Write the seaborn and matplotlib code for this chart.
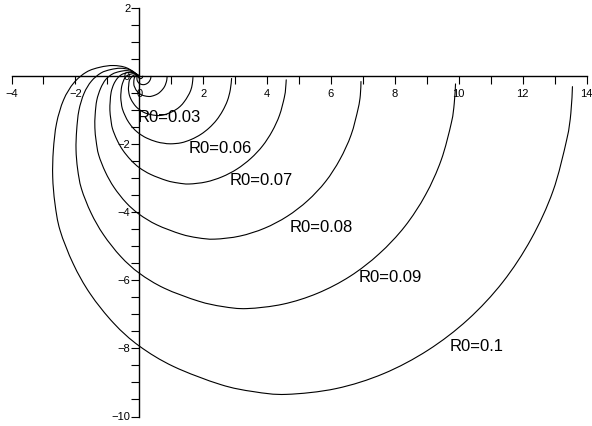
import matplotlib
matplotlib.use("Agg")
import matplotlib.pyplot as plt
from matplotlib.path import Path
from matplotlib.patches import PathPatch
from matplotlib.ticker import MultipleLocator
import seaborn as sns
import numpy as np

sns.set_style("white")
plt.rcParams["font.family"] = ["Liberation Sans", "DejaVu Sans"]

# Trajectories for R0 = 0.01 ... 0.10, each starting at the origin
r0_values = [0.01, 0.02, 0.03, 0.04, 0.05, 0.06, 0.07, 0.08, 0.09, 0.10]

x_r01 = [0.0, -0.003, 0.0, 0.008, 0.014]
y_r01 = [0.0, -0.003, -0.008, -0.009, 0.0]

x_r02 = [0.0, -0.019, -0.022, -0.017, 0.0, 0.020, 0.037, 0.058, 0.078, 0.093, 0.103, 0.108]
y_r02 = [0.0, -0.006, -0.024, -0.044, -0.063, -0.073, -0.075, -0.071, -0.060, -0.046, -0.028, -0.002]

x_r03 = [0.0, -0.045, -0.064, -0.073, -0.071, -0.056, -0.022, 0.0, 0.029, 0.069, 0.124, 0.166,
         0.207, 0.244, 0.278, 0.307, 0.331, 0.350, 0.361, 0.366]
y_r03 = [0.0, 0.003, -0.019, -0.059, -0.10, -0.149, -0.196, -0.214, -0.230, -0.245, -0.252, -0.248,
         -0.236, -0.217, -0.193, -0.163, -0.129, -0.091, -0.050, -0.008]

x_r04 = [0.0, -0.05, -0.11, -0.15, -0.17, -0.17, -0.16, -0.13, -0.10, -0.05, 0.0, 0.07, 0.16, 0.30,
         0.39, 0.49, 0.58, 0.66, 0.73, 0.79, 0.83, 0.86, 0.87]
y_r04 = [0.0, 0.02, 0.01, -0.04, -0.14, -0.24, -0.29, -0.35, -0.41, -0.46, -0.51, -0.55, -0.58, -0.60,
         -0.59, -0.56, -0.52, -0.46, -0.39, -0.31, -0.22, -0.12, -0.02]

x_r05 = [0.0, -0.10, -0.20, -0.29, -0.32, -0.33, -0.34, -0.33, -0.31, -0.26, -0.19, -0.10, 0.0, 0.13,
         0.31, 0.57, 0.76, 0.95, 1.12, 1.28, 1.41, 1.52, 1.61, 1.66, 1.68]
y_r05 = [0.0, 0.04, 0.01, -0.09, -0.17, -0.27, -0.37, -0.46, -0.56, -0.68, -0.79, -0.90, -0.98, -1.06,
         -1.12, -1.16, -1.14, -1.08, -1.00, -0.89, -0.75, -0.59, -0.42, -0.23, -0.04]

x_r06 = [0.0, -0.17, -0.35, -0.44, -0.50, -0.55, -0.57, -0.58, -0.56, -0.53, -0.44, -0.33, -0.17, 0.0,
         0.23, 0.54, 0.76, 0.98, 1.31, 1.63, 1.93, 2.19, 2.42, 2.61, 2.76, 2.85, 2.89]
y_r06 = [0.0, 0.07, 0.03, -0.04, -0.15, -0.30, -0.46, -0.63, -0.80, -0.96, -1.17, -1.36, -1.55, -1.69,
         -1.82, -1.93, -1.97, -1.99, -1.96, -1.86, -1.71, -1.52, -1.29, -1.02, -0.72, -0.40, -0.07]

x_r07 = [0.0, -0.13, -0.27, -0.42, -0.56, -0.69, -0.80, -0.88, -0.91, -0.92, -0.89, -0.84, -0.70, -0.52,
         -0.27, 0.0, 0.36, 0.86, 1.21, 1.56, 2.09, 2.59, 3.06, 3.49, 3.86, 4.16, 4.39, 4.54, 4.58, 4.60]
y_r07 = [0.0, 0.08, 0.11, 0.09, 0.04, -0.07, -0.24, -0.47, -0.74, -1.00, -1.27, -1.54, -1.87, -2.17,
         -2.46, -2.69, -2.89, -3.07, -3.14, -3.17, -3.11, -2.96, -2.73, -2.42, -2.05, -1.62, -1.15, -0.63,
         -0.37, -0.11]

x_r08 = [0.0, -0.20, -0.41, -0.63, -0.84, -1.05, -1.21, -1.33, -1.38, -1.39, -1.35, -1.27, -1.06, -0.79,
         -0.41, 0.0, 0.55, 1.30, 1.83, 2.36, 3.15, 3.92, 4.63, 5.27, 5.83, 6.28, 6.63, 6.85, 6.92, 6.94]
y_r08 = [0.0, 0.12, 0.16, 0.13, 0.06, -0.10, -0.36, -0.71, -1.12, -1.52, -1.91, -2.32, -2.82, -3.27,
         -3.72, -4.06, -4.37, -4.64, -4.75, -4.79, -4.70, -4.47, -4.12, -3.66, -3.10, -2.45, -1.73, -0.96,
         -0.56, -0.16]

x_r09 = [0.0, -0.28, -0.59, -0.90, -1.20, -1.50, -1.73, -1.89, -1.96, -1.98, -1.93, -1.81, -1.51, -1.12,
         -0.58, 0.0, 0.78, 1.85, 2.61, 3.37, 4.50, 5.58, 6.60, 7.51, 8.31, 8.96, 9.45, 9.77, 9.86, 9.90]
y_r09 = [0.0, 0.18, 0.23, 0.19, 0.09, -0.15, -0.51, -1.01, -1.59, -2.16, -2.73, -3.31, -4.02, -4.66,
         -5.30, -5.79, -6.23, -6.61, -6.77, -6.83, -6.70, -6.38, -5.88, -5.22, -4.42, -3.49, -2.47, -1.37,
         -0.80, -0.23]

x_r10 = [0.0, -0.39, -0.81, -1.23, -1.65, -2.05, -2.37, -2.59, -2.69, -2.71, -2.64, -2.48, -2.07, -1.54,
         -0.80, 0.0, 1.07, 2.54, 3.58, 4.61, 6.16, 7.65, 9.04, 10.29, 11.38, 12.27, 12.95, 13.38, 13.51,
         13.56]
y_r10 = [0.0, 0.24, 0.31, 0.26, 0.12, -0.20, -0.70, -1.39, -2.18, -2.96, -3.74, -4.53, -5.51, -6.39,
         -7.26, -7.93, -8.53, -9.06, -9.27, -9.35, -9.18, -8.74, -8.05, -7.15, -6.05, -4.78, -3.38, -1.87,
         -1.09, -0.31]

curve_x = [x_r01, x_r02, x_r03, x_r04, x_r05, x_r06, x_r07, x_r08, x_r09, x_r10]
curve_y = [y_r01, y_r02, y_r03, y_r04, y_r05, y_r06, y_r07, y_r08, y_r09, y_r10]

# Curve annotations: text and anchor (left edge, vertical centre)
label_texts = ["R0=0.03", "R0=0.06", "R0=0.07", "R0=0.08", "R0=0.09", "R0=0.1"]
label_x = [-0.04, 1.56, 2.84, 4.72, 6.88, 9.72]
label_y = [-1.21, -2.12, -3.06, -4.44, -5.93, -7.94]


def smooth_path(xs, ys):
    """Catmull-Rom spline through the points, expressed as cubic Bezier segments."""
    p = np.column_stack([xs, ys]).astype(float)
    ext = np.vstack([p[0], p, p[-1]])
    verts = [p[0]]
    codes = [Path.MOVETO]
    for i in range(1, len(ext) - 2):
        p0, p1, p2, p3 = ext[i - 1], ext[i], ext[i + 1], ext[i + 2]
        verts += [p1 + (p2 - p0) / 6.0, p2 - (p3 - p1) / 6.0, p2]
        codes += [Path.CURVE4] * 3
    return Path(verts, codes)


fig = plt.figure(figsize=(5.92, 4.26), dpi=100)
ax = fig.add_axes([11.5 / 592, 9.5 / 426, 575 / 592, 408.5 / 426])

palette = sns.color_palette(["black"] * len(r0_values))
for xs, ys, col in zip(curve_x, curve_y, palette):
    ax.add_patch(PathPatch(smooth_path(xs, ys), facecolor="none", edgecolor=col,
                           linewidth=0.8, capstyle="round", joinstyle="round"))

for txt, tx, ty in zip(label_texts, label_x, label_y):
    ax.text(tx, ty, txt, fontsize=12, ha="left", va="center", color="black")

ax.set_xlim(-4, 14)
ax.set_ylim(-10, 2)

# Axes through the origin
ax.spines["left"].set_position(("data", 0))
ax.spines["bottom"].set_position(("data", 0))
ax.spines["top"].set_visible(False)
ax.spines["right"].set_visible(False)
for side in ("left", "bottom"):
    ax.spines[side].set_color("black")
    ax.spines[side].set_linewidth(1.0)

ax.xaxis.set_major_locator(MultipleLocator(2))
ax.xaxis.set_minor_locator(MultipleLocator(1))
ax.yaxis.set_major_locator(MultipleLocator(2))
ax.yaxis.set_minor_locator(MultipleLocator(0.5))
ax.tick_params(which="both", bottom=True, left=True, direction="out", length=6, width=0.8,
               color="black", labelsize=8, labelcolor="black")
ax.tick_params(axis="x", which="major", pad=3)
ax.tick_params(axis="y", which="major", pad=0.5)

fig.savefig("out.png", dpi=100)
